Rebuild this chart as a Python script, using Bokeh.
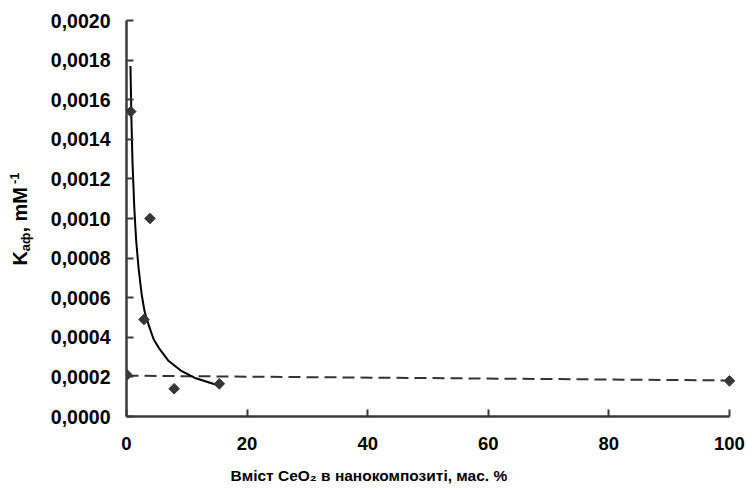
import math
from bokeh.plotting import figure
from bokeh.layouts import row
from bokeh.models import Range1d, FixedTicker, CustomJSTickFormatter, Title, Div
from bokeh.embed import file_html
from bokeh.resources import INLINE

# ---- data ----
x_pts = [0.1, 0.7, 2.9, 3.9, 7.9, 15.4, 100]
y_pts = [0.00021, 0.00154, 0.00049, 0.00100, 0.00014, 0.000165, 0.00018]

trend_x = [0.66, 0.8, 1.0, 1.3, 1.6, 2.0, 2.5, 3.0, 3.7, 4.5, 5.5, 7.0, 9.0, 11.5, 15.4]
trend_y = [0.00177, 0.00152, 0.00128, 0.00105, 0.00089, 0.00075, 0.00062, 0.00053,
           0.00046, 0.00039, 0.00034, 0.00028, 0.000232, 0.000193, 0.000155]

dash_x = [0, 100]
dash_y = [0.000206, 0.000182]

x_ticks = [0, 20, 40, 60, 80, 100]
y_ticks = [0, 0.0002, 0.0004, 0.0006, 0.0008, 0.0010, 0.0012, 0.0014, 0.0016, 0.0018, 0.0020]
y_tick_labels = ["0,0000", "0,0002", "0,0004", "0,0006", "0,0008", "0,0010",
                 "0,0012", "0,0014", "0,0016", "0,0018", "0,0020"]

x_title = "Вміст CeO₂ в нанокомпозиті, мас. %"
y_title_main, y_title_sub, y_title_rest, y_title_sup = "K", "аф", ", mM", "-1"

# ---- layout ----
TOTAL_W, H = 747, 495
DIV_W = 40
W = TOTAL_W - DIV_W
px_per_x = 6.03
x0_page = 126            # page x of data x=0
x_start = 0
x_end = 101.5
BL = x0_page - DIV_W
frame_w = int(round((x_end - x_start) * px_per_x))
BR = W - BL - frame_w
y_top_page, y_bot_page = 20, 416
BT = y_top_page
BB = H - y_bot_page

FONT = "Liberation Sans"
AX = "#3a3a3a"

p = figure(width=W, height=H, output_backend="svg", toolbar_location=None,
           x_range=Range1d(x_start, x_end), y_range=Range1d(0, 0.002),
           min_border_left=BL, min_border_right=BR, min_border_top=BT, min_border_bottom=BB)
p.outline_line_color = None
p.grid.visible = False
p.background_fill_color = "white"
p.border_fill_color = "white"

xa = p.xaxis[0]
xa.ticker = FixedTicker(ticks=x_ticks)
xa.bounds = (0, 100)
xa.axis_line_color = AX
xa.axis_line_width = 2.5
xa.major_tick_line_color = AX
xa.major_tick_line_width = 2
xa.major_tick_in = 7
xa.major_tick_out = 0
xa.minor_tick_line_color = None
xa.major_label_text_font = FONT
xa.major_label_text_font_style = "bold"
xa.major_label_text_font_size = "18.5px"
xa.major_label_text_color = "black"
xa.major_label_standoff = 20

p.add_layout(Title(text=x_title, align="left", offset=104, standoff=24,
                   vertical_align="bottom",
                   text_font=FONT, text_font_style="bold", text_font_size="15.5px",
                   text_color="black"), "below")

ya = p.yaxis[0]
ya.ticker = FixedTicker(ticks=y_ticks)
ya.bounds = (0, 0.002)
ya.formatter = CustomJSTickFormatter(args=dict(tvals=y_ticks, tlabels=y_tick_labels), code="""
const i = tvals.findIndex(t => Math.abs(t - tick) < 1e-9);
return i >= 0 ? tlabels[i] : '';
""")
ya.axis_line_color = AX
ya.axis_line_width = 2.5
ya.major_tick_line_color = AX
ya.major_tick_line_width = 2
ya.major_tick_in = 7
ya.major_tick_out = 0
ya.minor_tick_line_color = None
ya.major_label_text_font = FONT
ya.major_label_text_font_style = "bold"
ya.major_label_text_font_size = "19.5px"
ya.major_label_text_color = "black"
ya.major_label_standoff = 16

# ---- glyphs ----
p.line(dash_x, dash_y, line_color="#333333", line_width=2, line_dash="12 6")
p.line(trend_x, trend_y, line_color="black", line_width=2)
p.scatter(x_pts, y_pts, marker="square", angle=math.pi / 4, size=7.5,
          fill_color="#363636", line_color="#363636")

# ---- rotated y title (HTML, with subscript and superscript) ----
title_html = (
    '<div style="position:absolute; left:21px; top:219px; '
    'transform: translate(-50%, -50%) rotate(-90deg); white-space:nowrap; '
    f"font-family:'{FONT}'; font-weight:bold; font-size:20px; line-height:20px; color:black;\">"
    f'{y_title_main}<span style="font-size:13px; position:relative; top:3px;">{y_title_sub}</span>'
    f'{y_title_rest}<span style="font-size:13px; position:relative; top:-8px; margin-left:3px;">{y_title_sup}</span>'
    '</div>'
)
div = Div(text=title_html, width=DIV_W, height=H, margin=0,
          styles={"position": "relative", "overflow": "visible"})

layout = row(div, p, spacing=0)
open("out.html", "w").write(file_html(layout, INLINE))
